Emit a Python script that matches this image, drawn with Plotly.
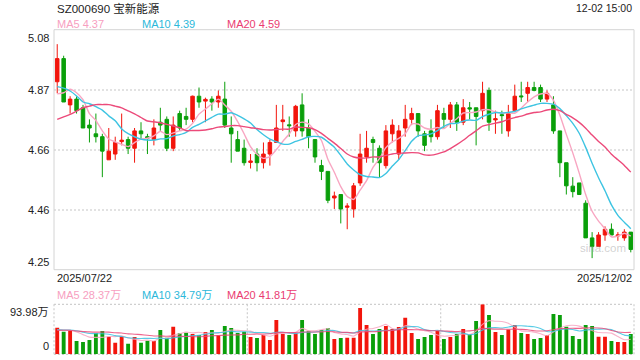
import pandas as pd
import plotly.graph_objects as go

# ---------------- data ----------------
holidays = ["2025-10-01", "2025-10-02", "2025-10-03", "2025-10-06", "2025-10-07", "2025-10-08"]
dates = [d.strftime("%Y/%m/%d") for d in pd.bdate_range("2025-07-22", "2025-12-02")
         if d.strftime("%Y-%m-%d") not in holidays]

opens = [4.90, 4.98, 4.82, 4.84, 4.81, 4.75, 4.72, 4.71, 4.63, 4.65,
         4.693, 4.70, 4.67, 4.73, 4.710, 4.70, 4.76, 4.77, 4.67, 4.79,
         4.78, 4.77, 4.85, 4.833, 4.84, 4.83, 4.84, 4.74, 4.70, 4.67,
         4.621, 4.65, 4.62, 4.65, 4.69, 4.762, 4.751, 4.73, 4.82, 4.74,
         4.70, 4.61, 4.59, 4.498, 4.51, 4.466, 4.46, 4.55, 4.64, 4.70,
         4.67, 4.61, 4.72, 4.65, 4.74, 4.77, 4.79, 4.72, 4.73, 4.71,
         4.79, 4.77, 4.82, 4.76, 4.810, 4.81, 4.80, 4.87, 4.768, 4.786,
         4.73, 4.80, 4.851, 4.86, 4.88, 4.88, 4.84, 4.82, 4.73, 4.62,
         4.539, 4.55, 4.48, 4.36, 4.33, 4.37, 4.39, 4.367, 4.36, 4.38]
highs = [5.03, 4.99, 4.85, 4.85, 4.82, 4.77, 4.79, 4.72, 4.74, 4.71,
         4.79, 4.71, 4.74, 4.76, 4.72, 4.77, 4.81, 4.78, 4.78, 4.80,
         4.81, 4.852, 4.88, 4.845, 4.85, 4.87, 4.90, 4.78, 4.73, 4.70,
         4.65, 4.67, 4.69, 4.70, 4.82, 4.82, 4.78, 4.82, 4.86, 4.77,
         4.70, 4.63, 4.59, 4.52, 4.51, 4.48, 4.55, 4.72, 4.73, 4.71,
         4.68, 4.75, 4.77, 4.75, 4.82, 4.81, 4.79, 4.73, 4.77, 4.82,
         4.81, 4.83, 4.83, 4.84, 4.83, 4.81, 4.90, 4.88, 4.80, 4.80,
         4.82, 4.89, 4.90, 4.90, 4.90, 4.89, 4.87, 4.85, 4.73, 4.62,
         4.57, 4.55, 4.49, 4.38, 4.38, 4.40, 4.41, 4.38, 4.39, 4.38]
lows = [4.86, 4.83, 4.79, 4.79, 4.74, 4.69, 4.69, 4.57, 4.63, 4.63,
        4.68, 4.65, 4.62, 4.70, 4.65, 4.68, 4.73, 4.66, 4.66, 4.73,
        4.75, 4.76, 4.81, 4.76, 4.80, 4.81, 4.74, 4.62, 4.66, 4.61,
        4.60, 4.59, 4.60, 4.61, 4.69, 4.73, 4.71, 4.71, 4.71, 4.67,
        4.62, 4.56, 4.48, 4.46, 4.41, 4.39, 4.43, 4.54, 4.62, 4.62,
        4.57, 4.60, 4.69, 4.63, 4.71, 4.75, 4.71, 4.66, 4.69, 4.70,
        4.74, 4.74, 4.73, 4.75, 4.77, 4.68, 4.77, 4.73, 4.72, 4.72,
        4.71, 4.795, 4.83, 4.83, 4.867, 4.83, 4.83, 4.72, 4.57, 4.51,
        4.50, 4.51, 4.36, 4.29, 4.33, 4.35, 4.37, 4.35, 4.35, 4.31]
closes = [4.98, 4.83, 4.84, 4.80, 4.74, 4.74, 4.71, 4.66, 4.66, 4.69,
          4.698, 4.67, 4.73, 4.72, 4.705, 4.74, 4.75, 4.67, 4.75, 4.74,
          4.77, 4.85, 4.83, 4.839, 4.83, 4.85, 4.75, 4.72, 4.66, 4.62,
          4.626, 4.62, 4.65, 4.69, 4.74, 4.768, 4.748, 4.815, 4.73, 4.71,
          4.64, 4.59, 4.49, 4.505, 4.46, 4.470, 4.54, 4.65, 4.67, 4.69,
          4.62, 4.73, 4.75, 4.73, 4.77, 4.79, 4.73, 4.68, 4.71, 4.80,
          4.77, 4.82, 4.76, 4.81, 4.806, 4.78, 4.86, 4.76, 4.772, 4.783,
          4.79, 4.85, 4.848, 4.88, 4.87, 4.84, 4.86, 4.73, 4.62, 4.54,
          4.52, 4.51, 4.36, 4.33, 4.37, 4.39, 4.37, 4.370, 4.38, 4.32]
# closes before the window, estimated from where the MA lines start
prior_closes = [4.66, 4.67, 4.57, 4.51, 4.63, 4.60, 4.66, 4.66, 4.80, 4.81,
                4.88, 4.94, 4.97, 4.95, 4.80, 4.81, 4.78, 4.86, 4.86]

volumes = [50.1, 42.6, 43.9, 25.1, 23.2, 26.9, 40.1, 43.9, 33.2, 21.9,
           33.8, 20.0, 32.6, 21.9, 25.7, 25.1, 45.7, 31.3, 52.0, 39.5,
           40.7, 38.2, 36.3, 42.0, 45.7, 36.3, 53.3, 49.5, 40.1, 42.6,
           32.6, 30.7, 36.3, 26.9, 64.5, 38.8, 36.3, 39.5, 64.5, 43.2,
           38.2, 45.7, 48.9, 28.8, 30.7, 31.3, 31.3, 87.1, 55.1, 38.2,
           47.6, 53.3, 47.6, 51.4, 68.9, 40.1, 28.8, 32.6, 36.3, 43.9,
           28.8, 32.6, 38.2, 47.6, 38.2, 62.7, 93.98, 73.9, 42.0, 36.3,
           46.4, 55.1, 40.1, 38.2, 28.8, 30.7, 36.3, 75.8, 73.9, 52.0,
           34.5, 28.8, 55.0, 53.0, 33.0, 33.0, 25.0, 23.0, 23.0, 38.0]
# volumes before the window, estimated from where the volume MA lines start
prior_volumes = [40, 46, 52, 38, 44, 49, 41, 36, 47, 43,
                 50, 45, 39, 48, 52, 44, 46, 41, 49]

price_ticks = [5.08, 4.8725, 4.665, 4.4575, 4.25]
price_tick_text = ["5.08", "4.87", "4.66", "4.46", "4.25"]
vol_max = 93.98
vol_tick_text = ["93.98万", "0"]

title_text = "SZ000690 宝新能源"
time_text = "12-02 15:00"
ma_labels = ["MA5 4.37", "MA10 4.39", "MA20 4.59"]
vol_ma_labels = ["MA5 28.37万", "MA10 34.79万", "MA20 41.81万"]

# ---------------- styles ----------------
UP = "#f2150c"
DOWN = "#0a9f0a"
MA_COLORS = ["#f8a6c2", "#3ec4e2", "#ec4a7a"]
MA_TEXT = ["#f7a0bf", "#2cb8da", "#ea3b71"]
FONT = "Liberation Sans, Arial, Noto Sans CJK SC, sans-serif"
W, H = 640, 360
L, R = 54, 634
MAIN_T, MAIN_B = 29.7, 269.7
VOL_T, VOL_B = 304.3, 354.3


def px_x(x):
    return x / W


def px_y(y):
    return 1 - y / H


n = len(closes)
all_c = pd.Series(prior_closes + closes)
all_v = pd.Series(prior_volumes + volumes)
k = len(prior_closes)
ma_price = [all_c.rolling(w).mean().iloc[k:].tolist() for w in (5, 10, 20)]
ma_vol = [all_v.rolling(w).mean().iloc[len(prior_volumes):].tolist() for w in (5, 10, 20)]

fig = go.Figure()
fig.add_trace(go.Candlestick(
    x=dates, open=opens, high=highs, low=lows, close=closes,
    increasing=dict(line=dict(color=UP, width=1), fillcolor=UP),
    decreasing=dict(line=dict(color=DOWN, width=1), fillcolor=DOWN),
    whiskerwidth=0, xaxis="x", yaxis="y", hoverinfo="skip", showlegend=False))
for vals, col in zip(ma_price, MA_COLORS):
    fig.add_trace(go.Scatter(x=dates, y=vals, mode="lines",
                             line=dict(color=col, width=1.4, shape="spline", smoothing=0.6),
                             xaxis="x", yaxis="y", hoverinfo="skip", showlegend=False))

bar_colors = [UP if c >= o else DOWN for o, c in zip(opens, closes)]
fig.add_trace(go.Bar(x=dates, y=volumes, marker=dict(color=bar_colors, line=dict(width=0)),
                     width=0.6, xaxis="x2", yaxis="y2", hoverinfo="skip", showlegend=False))
for vals, col in zip(ma_vol, MA_COLORS):
    fig.add_trace(go.Scatter(x=dates, y=vals, mode="lines",
                             line=dict(color=col, width=1.1, shape="spline", smoothing=0.6),
                             opacity=0.85,
                             xaxis="x2", yaxis="y2", hoverinfo="skip", showlegend=False))

xdom = [px_x(L), px_x(R)]
fig.update_layout(
    width=W, height=H, autosize=False,
    margin=dict(l=0, r=0, t=0, b=0),
    paper_bgcolor="white", plot_bgcolor="white",
    boxgap=0.22,
    font=dict(family=FONT, size=11, color="#222"),
    xaxis=dict(domain=xdom, type="category", range=[-0.5, n - 0.5],
               showticklabels=False, showgrid=False, zeroline=False,
               rangeslider=dict(visible=False), anchor="y", fixedrange=True),
    yaxis=dict(domain=[px_y(MAIN_B), px_y(MAIN_T)], range=[price_ticks[-1], price_ticks[0]],
               tickvals=price_ticks[1:-1], showticklabels=False,
               showgrid=True, gridcolor="#e2e2e2", gridwidth=1.6, griddash="2px,2px",
               zeroline=False, anchor="x", fixedrange=True),
    xaxis2=dict(domain=xdom, type="category", range=[-0.5, n - 0.5],
                showticklabels=False, showgrid=False, zeroline=False,
                anchor="y2", matches="x", fixedrange=True),
    yaxis2=dict(domain=[px_y(VOL_B), px_y(VOL_T)], range=[0, vol_max],
                showticklabels=False, showgrid=False, zeroline=False,
                anchor="x2", fixedrange=True),
)

shapes = [
    dict(type="rect", xref="x domain", yref="y domain", x0=0, x1=1, y0=0, y1=1,
         line=dict(color="#d4d4d4", width=1), layer="above"),
]
dot = dict(color="#cfcfcf", width=1.2, dash="2px,2px")
for yy in (0, 1):
    shapes.append(dict(type="line", xref="x2 domain", yref="y2 domain", x0=0, x1=1, y0=yy, y1=yy,
                       line=dot, layer="below"))
for xx in (0, 1):
    shapes.append(dict(type="line", xref="x2 domain", yref="y2 domain", x0=xx, x1=xx, y0=0, y1=1,
                       line=dot, layer="below"))
for xv in (n / 3 - 0.5, 2 * n / 3 - 0.5):
    shapes.append(dict(type="line", xref="x2", yref="y2 domain", x0=xv, x1=xv, y0=0, y1=1,
                       line=dot, layer="below"))
fig.update_layout(shapes=shapes)

ann = []
ann.append(dict(text=title_text, x=px_x(54.5), y=px_y(8), xref="paper", yref="paper",
                xanchor="left", yanchor="middle", showarrow=False,
                font=dict(size=11.5, color="#222")))
ann.append(dict(text=time_text, x=px_x(634), y=px_y(8), xref="paper", yref="paper",
                xanchor="right", yanchor="middle", showarrow=False,
                font=dict(size=10.5, color="#222")))
for txt, col, xx in zip(ma_labels, MA_TEXT, (55, 140, 225)):
    ann.append(dict(text=txt, x=px_x(xx), y=px_y(24), xref="paper", yref="paper",
                    xanchor="left", yanchor="middle", showarrow=False,
                    font=dict(size=11, color=col)))
for txt, col, xx in zip(vol_ma_labels, MA_TEXT, (55, 140, 225)):
    ann.append(dict(text=txt, x=px_x(xx), y=px_y(295), xref="paper", yref="paper",
                    xanchor="left", yanchor="middle", showarrow=False,
                    font=dict(size=11, color=col)))
for i, (tv, tt) in enumerate(zip(price_ticks, price_tick_text)):
    ya = "top" if i == 0 else ("bottom" if i == len(price_ticks) - 1 else "middle")
    ann.append(dict(text=tt, x=px_x(51), y=tv, xref="paper", yref="y",
                    xanchor="right", yanchor=ya, showarrow=False,
                    font=dict(size=11, color="#222")))
ann.append(dict(text=vol_tick_text[0], x=px_x(51), y=vol_max, xref="paper", yref="y2",
                xanchor="right", yanchor="top", showarrow=False, font=dict(size=11, color="#222")))
ann.append(dict(text=vol_tick_text[1], x=px_x(51), y=0, xref="paper", yref="y2",
                xanchor="right", yanchor="bottom", showarrow=False, font=dict(size=11, color="#222")))
ann.append(dict(text=dates[0], x=px_x(55), y=px_y(278), xref="paper", yref="paper",
                xanchor="left", yanchor="middle", showarrow=False, font=dict(size=11, color="#222")))
ann.append(dict(text=dates[-1], x=px_x(634), y=px_y(278), xref="paper", yref="paper",
                xanchor="right", yanchor="middle", showarrow=False, font=dict(size=11, color="#222")))
ann.append(dict(text="sina.com", x=px_x(603), y=px_y(248), xref="paper", yref="paper",
                xanchor="center", yanchor="middle", showarrow=False,
                font=dict(size=11.5, color="rgba(150,150,150,0.45)")))
fig.update_layout(annotations=ann)

fig.write_html(
    "out.html",
    config={"displayModeBar": False},
    post_script="document.documentElement.style.margin='0';document.body.style.margin='0';"
                "document.body.style.padding='0';document.body.style.overflow='hidden';",
)
